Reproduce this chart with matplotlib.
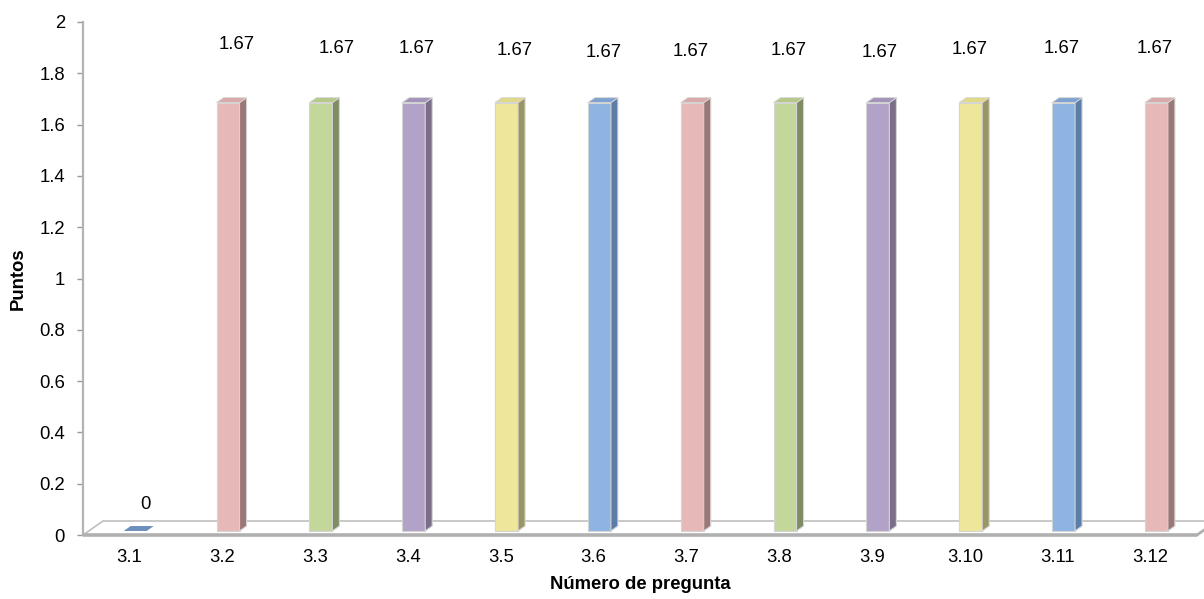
import matplotlib
matplotlib.use("Agg")
import matplotlib.pyplot as plt
from matplotlib.patches import Polygon

# ---- data ----
categories = ["3.1", "3.2", "3.3", "3.4", "3.5", "3.6", "3.7", "3.8", "3.9", "3.10", "3.11", "3.12"]
values = [0, 1.67, 1.67, 1.67, 1.67, 1.67, 1.67, 1.67, 1.67, 1.67, 1.67, 1.67]
value_labels = ["0", "1.67", "1.67", "1.67", "1.67", "1.67", "1.67", "1.67", "1.67", "1.67", "1.67", "1.67"]
y_ticks = [0, 0.2, 0.4, 0.6, 0.8, 1, 1.2, 1.4, 1.6, 1.8, 2]
y_tick_labels = ["0", "0.2", "0.4", "0.6", "0.8", "1", "1.2", "1.4", "1.6", "1.8", "2"]
x_title = "Número de pregunta"
y_title = "Puntos"

# ---- styles ----
palette = {
    "blue":   ("#8DB4E2", "#5C7DA8", "#7FA3D0"),
    "pink":   ("#E6B9B8", "#9C7776", "#D9AAA9"),
    "green":  ("#C4D79B", "#7F8C63", "#B5C98A"),
    "purple": ("#B3A2C7", "#7A6E8B", "#A493BA"),
    "yellow": ("#EEE79A", "#9A9563", "#E0D98A"),
}
color_order = ["blue", "pink", "green", "purple", "yellow", "blue", "pink",
               "green", "purple", "yellow", "blue", "pink"]
# label offsets (pixels) relative to top-front-centre of each bar
label_dx = [10, 9, 16, 3, 8, 4, -2, 4, 2, -1, -2, -2]
label_dy = [26, 58, 54, 54, 52, 50, 51, 52, 50, 53, 54, 54]

plt.rcParams["font.family"] = ["Liberation Sans", "DejaVu Sans"]
FS = 13.3

W, H = 1204, 599
fig = plt.figure(figsize=(W / 100, H / 100), dpi=100)
L, R, B, T = 83, 1197, 535, 22
ax = fig.add_axes([L / W, (H - B) / H, (R - L) / W, (B - T) / H])
n = len(categories)
ax.set_xlim(0, n)
ax.set_ylim(0, 2)

pxx = (R - L) / n          # pixels per category
pxy = (B - T) / 2.0        # pixels per unit value

# depth of the floor
DXp, DYp = 20, 14
DX, DY = DXp / pxx, DYp / pxy

# floor
floor = Polygon([(0, 0), (n, 0), (n + DX, DY), (0 + DX, DY)], closed=True,
                facecolor="white", edgecolor="#BFBFBF", lw=1.2, clip_on=False, zorder=1)
ax.add_patch(floor)
ax.plot([0, n], [0, 0], color="#B0B0B0", lw=2.6, clip_on=False, zorder=2,
        solid_capstyle="butt")
ax.plot([n, n + DX * 0.5], [0, DY * 0.5], color="#B0B0B0", lw=2.0, clip_on=False, zorder=2)

# bars
hw = 11.5 / pxx
tf, tb = 0.29, 0.64
for i, (v, cname) in enumerate(zip(values, color_order)):
    front, side, top = palette[cname]
    c = i + 0.5
    x0 = c - hw + DX * tf
    x1 = c + hw + DX * tf
    y0 = DY * tf
    ddx = DX * (tb - tf)
    ddy = DY * (tb - tf)
    if v > 0:
        ax.add_patch(Polygon([(x0, y0), (x1, y0), (x1, y0 + v), (x0, y0 + v)],
                             facecolor=front, edgecolor="#D4D4D4", lw=0.8, zorder=3))
        ax.add_patch(Polygon([(x1, y0), (x1 + ddx, y0 + ddy), (x1 + ddx, y0 + ddy + v), (x1, y0 + v)],
                             facecolor=side, edgecolor="#D4D4D4", lw=0.8, zorder=3))
        ax.add_patch(Polygon([(x0, y0 + v), (x1, y0 + v), (x1 + ddx, y0 + ddy + v), (x0 + ddx, y0 + ddy + v)],
                             facecolor=top, edgecolor="#D4D4D4", lw=0.6, zorder=3))
    else:
        ax.add_patch(Polygon([(x0, y0), (x1, y0), (x1 + ddx, y0 + ddy), (x0 + ddx, y0 + ddy)],
                             facecolor="#6B8EBC", edgecolor="none", zorder=3))
    ax.annotate(value_labels[i], xy=(c + DX * tf, y0 + v), xytext=(label_dx[i], label_dy[i]),
                textcoords="offset pixels", ha="center", va="center", fontsize=FS, zorder=5)

# axes styling
for s in ["top", "right", "bottom"]:
    ax.spines[s].set_visible(False)
ax.spines["left"].set_color("#B3B3B3")
ax.spines["left"].set_linewidth(1.6)
ax.set_yticks(y_ticks)
ax.set_yticklabels(y_tick_labels, fontsize=FS)
ax.tick_params(axis="y", length=4, width=1, color="#999999", pad=9)
ax.set_xticks([i + 0.5 for i in range(n)])
ax.set_xticklabels(categories, fontsize=FS)
ax.tick_params(axis="x", length=0, pad=10)
ax.set_xlabel(x_title, fontsize=FS, fontweight="bold", labelpad=7)
ax.set_ylabel(y_title, fontsize=FS, fontweight="bold", labelpad=9)

fig.savefig("out.png", dpi=100)
